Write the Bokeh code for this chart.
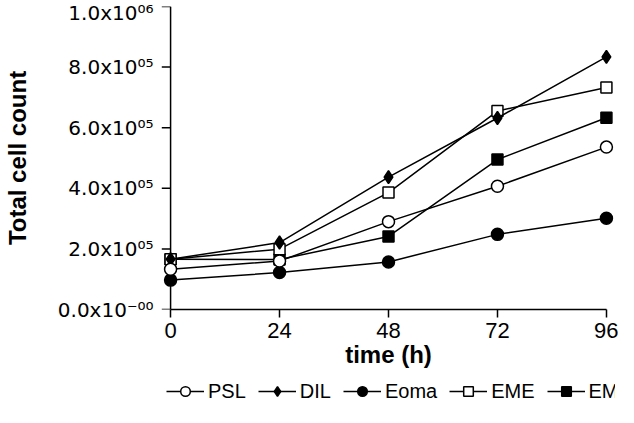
from bokeh.plotting import figure
from bokeh.layouts import column
from bokeh.models import (Range1d, FixedTicker, Legend, LegendItem)
from bokeh.embed import file_html
from bokeh.resources import INLINE

# ---- data ----
time_h = [0, 24, 48, 72, 96]
psl = [1.33e5, 1.60e5, 2.90e5, 4.07e5, 5.36e5]
dil = [1.66e5, 2.21e5, 4.37e5, 6.32e5, 8.34e5]
eoma = [0.97e5, 1.22e5, 1.57e5, 2.48e5, 3.01e5]
eme = [1.66e5, 1.99e5, 3.86e5, 6.55e5, 7.33e5]
em = [1.66e5, 1.65e5, 2.41e5, 4.95e5, 6.33e5]

x_ticks = [0, 24, 48, 72, 96]
y_ticks = [0, 2e5, 4e5, 6e5, 8e5, 1e6]
y_tick_labels = ["0.0x10\u207b\u2070\u2070", "2.0x10\u2070\u2075", "4.0x10\u2070\u2075",
                 "6.0x10\u2070\u2075", "8.0x10\u2070\u2075", "1.0x10\u2070\u2076"]

series_names = ["PSL", "DIL", "Eoma", "EME", "EM"]
series_values = [psl, dil, eoma, eme, em]
series_markers = ["circle", "diamond", "circle", "square", "square"]
series_fills = ["white", "black", "black", "white", "black"]
series_sizes = [12, 13, 12, 11, 11]

FONT = "Liberation Sans"

p = figure(width=618, height=375, output_backend="svg", toolbar_location=None,
           x_range=Range1d(-2, 98), y_range=Range1d(0, 1e6),
           min_border_left=150, min_border_right=3, min_border_top=6,
           min_border_bottom=66)
p.outline_line_color = None
p.grid.visible = False
p.background_fill_color = "white"
p.border_fill_color = "white"

# x axis
xa = p.xaxis[0]
xa.ticker = FixedTicker(ticks=x_ticks)
xa.bounds = (0, 96)
xa.axis_line_width = 1.5
xa.axis_line_color = "black"
xa.major_tick_line_width = 1.5
xa.major_tick_out = 8
xa.major_tick_in = 0
xa.minor_tick_line_color = None
xa.major_label_text_font = FONT
xa.major_label_text_font_size = "22px"
xa.major_label_text_color = "black"
xa.major_label_standoff = 5
xa.axis_label = "time (h)"
xa.axis_label_text_font = FONT
xa.axis_label_text_font_size = "24px"
xa.axis_label_text_font_style = "bold"
xa.axis_label_text_color = "black"
xa.axis_label_standoff = 0

# y axis (labels only; line and ticks drawn at x=0)
ya = p.yaxis[0]
ya.ticker = FixedTicker(ticks=y_ticks)
ya.major_label_overrides = {v: s for v, s in zip(y_ticks, y_tick_labels)}
ya.axis_line_color = None
ya.major_tick_line_color = None
ya.minor_tick_line_color = None
ya.major_label_standoff = 2
ya.major_label_text_font = "DejaVu Sans"
ya.major_label_text_font_size = "20px"
ya.major_label_text_color = "black"
ya.axis_label = "Total cell count"
ya.axis_label_text_font = FONT
ya.axis_label_text_font_size = "24px"
ya.axis_label_text_font_style = "bold"
ya.axis_label_text_color = "black"
ya.axis_label_standoff = 24

p.segment(x0=[x_ticks[0]], y0=[min(y_ticks)], x1=[x_ticks[0]], y1=[max(y_ticks)],
          line_color="black", line_width=1.5)
p.ray(x=[x_ticks[0]] * len(y_ticks), y=y_ticks, length=9, length_units="screen",
      angle=3.14159265, line_color="black", line_width=1.5)

# draw order: EM, EME, Eoma, DIL, PSL (PSL on top)
for i in [4, 3, 2, 1, 0]:
    p.line(time_h, series_values[i], line_color="black", line_width=1.5)
    p.scatter(time_h, series_values[i], marker=series_markers[i], size=series_sizes[i],
              fill_color=series_fills[i], line_color="black", line_width=1.5)

# legend strip below the chart (its series lie outside its own ranges; only the legend shows)
lg = figure(width=618, height=32, output_backend="svg", toolbar_location=None,
            x_range=Range1d(-1, 0), y_range=Range1d(-1, 0),
            min_border=0, min_border_left=0, min_border_right=0,
            min_border_top=0, min_border_bottom=0)
lg.axis.visible = False
lg.grid.visible = False
lg.outline_line_color = None
items = []
for i in range(5):
    rl = lg.line(time_h, series_values[i], line_color="black", line_width=1.5)
    rs = lg.scatter(time_h, series_values[i], marker=series_markers[i], size=series_sizes[i],
                    fill_color=series_fills[i], line_color="black", line_width=1.5)
    items.append(LegendItem(label=series_names[i], renderers=[rl, rs]))

legend = Legend(items=items, orientation="horizontal", location=(5, 4))
legend.glyph_width = 38
legend.glyph_height = 24
legend.label_text_font = FONT
legend.label_text_font_size = "20px"
legend.label_text_color = "black"
legend.label_standoff = 4
legend.spacing = 12
legend.padding = 0
legend.margin = 0
legend.border_line_color = None
legend.background_fill_alpha = 0
lg.add_layout(legend)

layout = column(p, lg, spacing=0)
open("out.html", "w").write(file_html(layout, INLINE))
